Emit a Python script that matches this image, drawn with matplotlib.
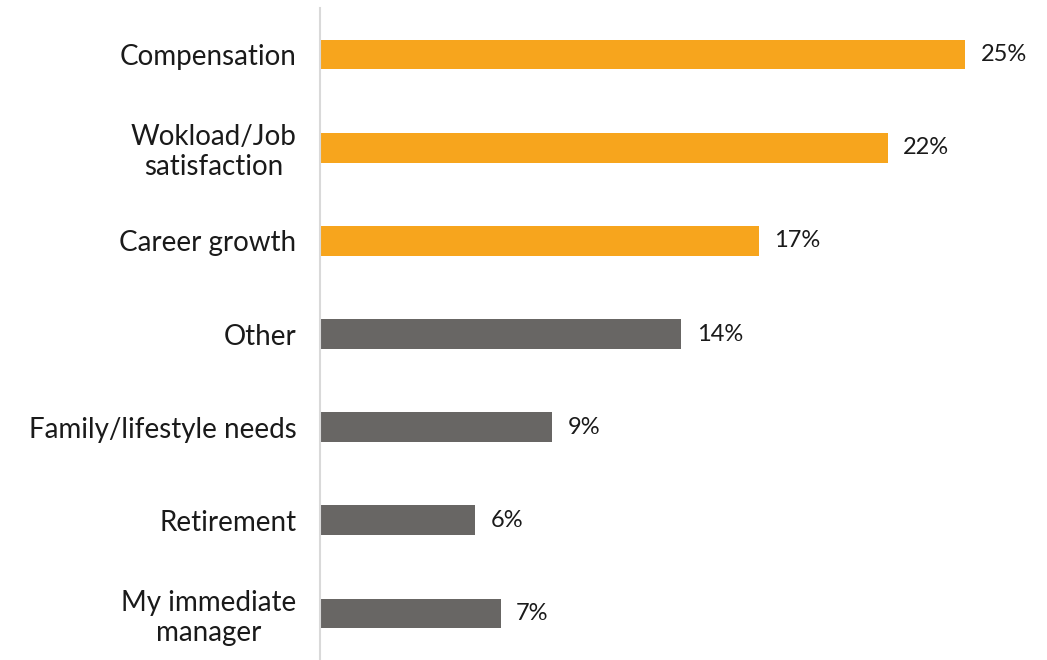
import matplotlib.pyplot as plt

plt.rcParams['font.family'] = ['Lato', 'DejaVu Sans']

categories = ["Compensation", "Wokload/Job\nsatisfaction", "Career growth", "Other",
              "Family/lifestyle needs", "Retirement", "My immediate\nmanager"]
values = [25, 22, 17, 14, 9, 6, 7]
colors = ["#F7A51D"] * 3 + ["#686664"] * 4

fig = plt.figure(figsize=(10.47, 6.6), dpi=100)
ax = fig.add_axes([320 / 1047, 0.0, 696.6 / 1047, 652 / 660])

y = list(range(len(categories)))
ax.barh(y, values, height=0.32, color=colors)
ax.set_ylim(len(categories) - 0.5, -0.5)
ax.set_xlim(0, 27)

for yi, v in zip(y, values):
    ax.text(v + 0.6, yi, f"{v}%", va="center", ha="left", fontsize=17, color="#1a1a1a")

ax.set_yticks(y)
ax.set_yticklabels(categories, fontsize=20, color="#1a1a1a", ha="right", multialignment="center")
ax.tick_params(axis="y", length=0, pad=17)
ax.set_xticks([])
for s in ["top", "right", "bottom"]:
    ax.spines[s].set_visible(False)
ax.spines["left"].set_color("#D9D9D9")
ax.spines["left"].set_linewidth(1.5)

fig.savefig("out.png", dpi=100)
